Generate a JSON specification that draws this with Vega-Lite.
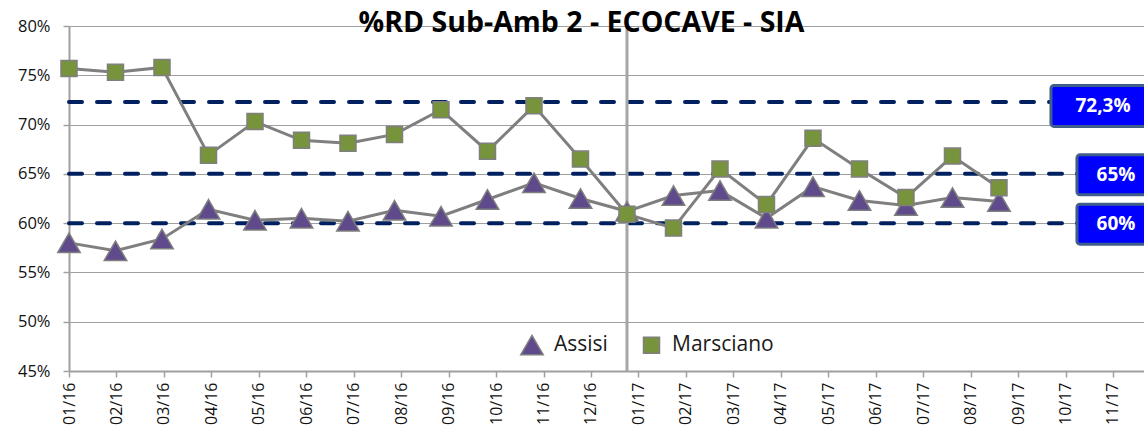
{
  "$schema": "https://vega.github.io/schema/vega-lite/v6.json",
  "width": 1075,
  "height": 345,
  "autosize": "none",
  "padding": {"left": 69, "top": 26, "right": 0, "bottom": 58},
  "background": "white",
  "title": {
    "text": "%RD Sub-Amb 2 - ECOCAVE - SIA",
    "frame": "group",
    "anchor": "middle",
    "dx": -25,
    "baseline": "alphabetic",
    "offset": -42,
    "fontSize": 28.5,
    "font": "Open Sans",
    "fontWeight": "bold",
    "color": "#000000"
  },
  "datasets": {
    "series": [
      {"m": "01/16", "series": "Assisi", "v": 58.0},
      {"m": "02/16", "series": "Assisi", "v": 57.2},
      {"m": "03/16", "series": "Assisi", "v": 58.4},
      {"m": "04/16", "series": "Assisi", "v": 61.4},
      {"m": "05/16", "series": "Assisi", "v": 60.3},
      {"m": "06/16", "series": "Assisi", "v": 60.5},
      {"m": "07/16", "series": "Assisi", "v": 60.2},
      {"m": "08/16", "series": "Assisi", "v": 61.3},
      {"m": "09/16", "series": "Assisi", "v": 60.7},
      {"m": "10/16", "series": "Assisi", "v": 62.4},
      {"m": "11/16", "series": "Assisi", "v": 64.1},
      {"m": "12/16", "series": "Assisi", "v": 62.5},
      {"m": "01/17", "series": "Assisi", "v": 61.2},
      {"m": "02/17", "series": "Assisi", "v": 62.8},
      {"m": "03/17", "series": "Assisi", "v": 63.3},
      {"m": "04/17", "series": "Assisi", "v": 60.5},
      {"m": "05/17", "series": "Assisi", "v": 63.7},
      {"m": "06/17", "series": "Assisi", "v": 62.3},
      {"m": "07/17", "series": "Assisi", "v": 61.8},
      {"m": "08/17", "series": "Assisi", "v": 62.6},
      {"m": "09/17", "series": "Assisi", "v": 62.2},
      {"m": "01/16", "series": "Marsciano", "v": 75.7},
      {"m": "02/16", "series": "Marsciano", "v": 75.3},
      {"m": "03/16", "series": "Marsciano", "v": 75.8},
      {"m": "04/16", "series": "Marsciano", "v": 66.9},
      {"m": "05/16", "series": "Marsciano", "v": 70.3},
      {"m": "06/16", "series": "Marsciano", "v": 68.4},
      {"m": "07/16", "series": "Marsciano", "v": 68.1},
      {"m": "08/16", "series": "Marsciano", "v": 69.0},
      {"m": "09/16", "series": "Marsciano", "v": 71.5},
      {"m": "10/16", "series": "Marsciano", "v": 67.3},
      {"m": "11/16", "series": "Marsciano", "v": 71.9},
      {"m": "12/16", "series": "Marsciano", "v": 66.5},
      {"m": "01/17", "series": "Marsciano", "v": 60.9},
      {"m": "02/17", "series": "Marsciano", "v": 59.5},
      {"m": "03/17", "series": "Marsciano", "v": 65.5},
      {"m": "04/17", "series": "Marsciano", "v": 61.9},
      {"m": "05/17", "series": "Marsciano", "v": 68.6},
      {"m": "06/17", "series": "Marsciano", "v": 65.5},
      {"m": "07/17", "series": "Marsciano", "v": 62.6},
      {"m": "08/17", "series": "Marsciano", "v": 66.8},
      {"m": "09/17", "series": "Marsciano", "v": 63.6}
    ],
    "thresholds": [
      {"v": 72.3, "label": "72,3%"},
      {"v": 65, "label": "65%"},
      {"v": 60, "label": "60%"}
    ]
  },
  "layer": [
    {
      "data": {"name": "thresholds"},
      "encoding": {
        "y": {
          "field": "v",
          "type": "quantitative",
          "title": null,
          "scale": {"domain": [45, 80], "nice": false, "zero": false},
          "axis": {
            "values": [45, 50, 55, 60, 65, 70, 75, 80],
            "labelExpr": "datum.value + '%'",
            "labelFontSize": 16.5,
            "labelPadding": 13,
            "grid": true,
            "title": null
          }
        }
      },
      "layer": [
        {
          "mark": {"type": "rule", "color": "#002060", "strokeWidth": 4, "strokeDash": [13, 15], "strokeCap": "round"},
          "encoding": {
            "x": {
              "datum": "01/16",
              "type": "ordinal",
              "title": null,
              "scale": {
                "type": "point",
                "domain": ["01/16","02/16","03/16","04/16","05/16","06/16","07/16","08/16","09/16","10/16","11/16","12/16","01/17","02/17","03/17","04/17","05/17","06/17","07/17","08/17","09/17","10/17","11/17"],
                "padding": 0.327,
                "align": 0
              },
              "axis": {
                "labelAngle": -90,
                "labelFontSize": 16,
                "labelPadding": 5,
                "grid": false,
                "title": null
              }
            },
            "x2": {"datum": "11/17"}
          }
        },
        {
          "transform": [{"filter": "datum.v > 70"}],
          "mark": {"type": "rect", "width": 124, "height": 41, "fill": "#0000FF", "stroke": "#3F5F8A", "strokeWidth": 3, "cornerRadius": 3, "yOffset": 4},
          "encoding": {"x": {"datum": "11/17", "type": "ordinal", "title": null}}
        },
        {
          "transform": [{"filter": "datum.v > 70"}],
          "mark": {"type": "text", "color": "white", "font": "Open Sans", "fontWeight": "bold", "fontSize": 19, "align": "center", "baseline": "middle", "dx": -10, "dy": 4},
          "encoding": {"x": {"datum": "11/17", "type": "ordinal", "title": null}, "text": {"field": "label"}}
        },
        {
          "transform": [{"filter": "datum.v < 70"}],
          "mark": {"type": "rect", "width": 72, "height": 40, "fill": "#0000FF", "stroke": "#3F5F8A", "strokeWidth": 3, "cornerRadius": 3, "yOffset": 1},
          "encoding": {"x": {"datum": "11/17", "type": "ordinal", "title": null}}
        },
        {
          "transform": [{"filter": "datum.v < 70"}],
          "mark": {"type": "text", "color": "white", "font": "Open Sans", "fontWeight": "bold", "fontSize": 19, "align": "center", "baseline": "middle", "dx": 3, "dy": 1},
          "encoding": {"x": {"datum": "11/17", "type": "ordinal", "title": null}, "text": {"field": "label"}}
        }
      ]
    },
    {
      "data": {"name": "series"},
      "encoding": {
        "x": {
          "field": "m",
          "type": "ordinal",
          "sort": null,
          "scale": {
            "type": "point",
            "domain": ["01/16","02/16","03/16","04/16","05/16","06/16","07/16","08/16","09/16","10/16","11/16","12/16","01/17","02/17","03/17","04/17","05/17","06/17","07/17","08/17","09/17"],
            "range": [0, {"expr": "width * 0.8651"}],
            "padding": 0
          },
          "axis": null
        },
        "y": {"field": "v", "type": "quantitative", "title": null}
      },
      "layer": [
        {
          "data": {"values": [{"m": "01/17", "lo": 45, "hi": 80}]},
          "mark": {"type": "rule", "color": "#A6A6A6", "strokeWidth": 3},
          "encoding": {
            "y": {"field": "lo", "type": "quantitative", "title": null},
            "y2": {"field": "hi"}
          }
        },
        {
          "mark": {"type": "line", "color": "#7F7F7F", "strokeWidth": 3},
          "encoding": {"detail": {"field": "series"}}
        },
        {
          "mark": {"type": "point", "filled": true, "opacity": 1, "stroke": "#7F7F7F", "strokeWidth": 1.5},
          "encoding": {
            "shape": {"field": "series", "type": "nominal", "scale": {"domain": ["Assisi", "Marsciano"], "range": ["triangle-up", "square"]}},
            "size": {"field": "series", "type": "nominal", "scale": {"domain": ["Assisi", "Marsciano"], "range": [506, 256]}},
            "fill": {
              "field": "series",
              "type": "nominal",
              "scale": {"domain": ["Assisi", "Marsciano"], "range": ["#5F4B8B", "#77933C"]},
              "legend": {
                "orient": "none",
                "legendX": 451,
                "legendY": 307,
                "direction": "horizontal",
                "title": null,
                "padding": 0,
                "labelFont": "Open Sans",
                "labelFontSize": 21,
                "labelColor": "#1a1a1a",
                "labelOffset": 10,
                "columnPadding": 32,
                "symbolStrokeColor": "#7F7F7F",
                "symbolStrokeWidth": 1.5,
                "symbolOpacity": 1
              }
            }
          }
        }
      ]
    }
  ],
  "resolve": {"scale": {"x": "independent"}},
  "config": {
    "view": {"stroke": null},
    "font": "Open Sans",
    "axis": {
      "domainColor": "#A0A0A0",
      "domainWidth": 2,
      "tickColor": "#A0A0A0",
      "tickWidth": 1.5,
      "tickSize": 6,
      "gridColor": "#A0A0A0",
      "gridWidth": 1,
      "labelColor": "#111111",
      "labelFont": "Open Sans"
    }
  }
}
